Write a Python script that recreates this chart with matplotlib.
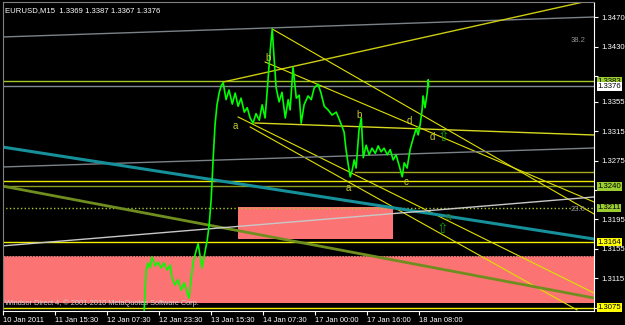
import matplotlib
matplotlib.use("Agg")
import matplotlib.pyplot as plt
from matplotlib.patches import Rectangle

plt.rcParams["font.family"] = ["Liberation Sans", "DejaVu Sans"]

# EURUSD M15 close line: hours since the first tick, price
hours = [43.4, 44.0, 44.6, 45.2, 45.8, 46.8, 47.7, 48.6, 49.5, 50.5, 51.4, 52.0, 52.9, 53.8,
         54.8, 55.7, 56.6, 57.2, 57.8, 58.5, 59.4, 60.0, 60.6, 61.2, 62.2, 62.8, 63.4, 64.0,
         64.6, 65.2, 65.8, 66.5, 67.1, 67.7, 68.6, 69.5, 70.5, 71.4, 72.3, 73.2, 74.2, 75.1,
         76.0, 76.9, 77.8, 78.8, 79.7, 80.6, 81.5, 82.2, 82.8, 83.4, 84.0, 84.9, 85.8, 86.8,
         87.7, 88.3, 89.2, 90.2, 91.1, 91.7, 92.6, 93.8, 94.8, 95.7, 96.9, 97.8, 98.8, 100.0,
         101.2, 102.5, 103.7, 104.9, 105.5, 106.2, 106.8, 107.4, 108.0, 108.6, 109.5, 110.2,
         110.8, 111.7, 112.6, 113.5, 114.5, 115.4, 116.3, 117.2, 118.2, 119.1, 120.0, 120.9,
         121.8, 122.8, 123.4, 124.3, 125.2, 126.2, 127.1, 127.7, 128.3, 128.9, 129.2, 129.8,
         130.5, 130.8, 130.9]
closes = [1.3072, 1.3126, 1.3136, 1.3129, 1.3144, 1.3132, 1.3137, 1.3129, 1.3136, 1.3126,
          1.3133, 1.3115, 1.3106, 1.3113, 1.3099, 1.3109, 1.3096, 1.3088, 1.3113, 1.3137,
          1.3153, 1.3162, 1.3145, 1.3129, 1.3153, 1.3167, 1.3188, 1.3222, 1.3276, 1.3324,
          1.3351, 1.3368, 1.3377, 1.3381, 1.3358, 1.3371, 1.3352, 1.3367, 1.3349, 1.3360,
          1.3341, 1.3347, 1.3333, 1.3326, 1.3339, 1.3330, 1.3351, 1.3333, 1.3385, 1.3426,
          1.3454, 1.3412, 1.3374, 1.3355, 1.3368, 1.3333, 1.3358, 1.3344, 1.3402, 1.3360,
          1.3364, 1.3326, 1.3351, 1.3363, 1.3358, 1.3374, 1.3379, 1.3367, 1.3349, 1.3344,
          1.3337, 1.3341, 1.3328, 1.3314, 1.3290, 1.3269, 1.3253, 1.3262, 1.3276, 1.3265,
          1.3317, 1.3333, 1.3279, 1.3296, 1.3283, 1.3292, 1.3285, 1.3295, 1.3287, 1.3292,
          1.3283, 1.3290, 1.3276, 1.3283, 1.3269, 1.3253, 1.3272, 1.3265, 1.3290, 1.3306,
          1.3319, 1.3310, 1.3324, 1.3344, 1.3363, 1.3347, 1.3368, 1.3385, 1.3376]

x_ticks = [0, 16, 32, 48, 64, 80, 96, 112, 128]
x_labels = ["10 Jan 2011", "11 Jan 15:30", "12 Jan 07:30", "12 Jan 23:30", "13 Jan 15:30",
            "14 Jan 07:30", "17 Jan 00:00", "17 Jan 16:00", "18 Jan 08:00"]
y_ticks = [1.3470, 1.3430, 1.3390, 1.3355, 1.3315, 1.3275, 1.3235, 1.3195, 1.3155, 1.3115, 1.3075]
y_labels = ["1.3470", "1.3430", "", "1.3355", "1.3315", "1.3275", "", "1.3195", "1.3155",
            "1.3115", ""]

# trendlines: (h0, p0, h1, p1, colour, width)
trend_lines = [
    (-0.3, 1.34432, 181.8, 1.34704, "#7a8288", 1.0),
    (67.7, 1.33820, 178.5, 1.34908, "#cccc10", 1.0),
    (82.8, 1.34541, 181.8, 1.32025, "#e0e000", 0.8),
    (80.6, 1.34092, 181.8, 1.32188, "#e0e000", 0.8),
    (72.3, 1.33344, 181.8, 1.30950, "#e0e000", 0.8),
    (76.0, 1.33208, 176.6, 1.30719, "#e0e000", 0.8),
    (77.5, 1.33262, 181.8, 1.33099, "#d8d820", 1.0),
    (-0.3, 1.32664, 181.8, 1.32922, "#7a8288", 1.0),
    (-0.3, 1.32936, 181.8, 1.31684, "#16909a", 2.2),
    (-0.3, 1.32405, 181.8, 1.30882, "#6f8e1f", 2.0),
    (-0.3, 1.31590, 181.8, 1.32256, "#c8c8c8", 1.0),
]
# horizontal levels: (price, start hour, colour, style)
levels = [
    (1.3383, -0.3, "#a0c828", "-"),
    (1.3376, -0.3, "#808890", "-"),
    (1.32596, 108.3, "#a8a820", "-"),
    (1.32473, -0.3, "#e8e800", "-"),
    (1.3240, -0.3, "#8a9a20", "-"),
    (1.3211, -0.3, "#a8c830", ":"),
    (1.3164, -0.3, "#f0f000", "-"),
    (1.3075, -0.3, "#f0f000", "-"),
]
# zones: (h0, h1, p_low, p_high)
zones = [(-0.3, 181.8, 1.30814, 1.31453), (72.3, 119.9, 1.31680, 1.32116)]

wave_labels = [("a", 71.4, 1.33222), ("b", 81.5, 1.34146), ("b", 109.5, 1.33371),
               ("a", 106.2, 1.32378), ("c", 124.0, 1.32460), ("d", 124.9, 1.33290),
               ("d", 132.0, 1.33072)]
arrows = [(135.4, 1.33072), (135.1, 1.31820)]

price_boxes = [("1.3383", 1.3383, "#9acd32"), ("1.3376", 1.3376, "white"),
               ("1.3240", 1.3240, "#9acd32"), ("1.3211", 1.3211, "#9acd32"),
               ("1.3164", 1.3164, "#ffff00"), ("1.3075", 1.3075, "#ffff00")]

fig = plt.figure(figsize=(6.25, 3.25), dpi=100, facecolor="black")
ax = fig.add_axes([2.5 / 625, 14 / 325, 591.5 / 625, 309 / 325], facecolor="black")
ax.set_xlim(-0.2, 181.8)
ax.set_ylim(1.30705, 1.34908)

for h0, h1, lo, hi in zones:
    ax.add_patch(Rectangle((h0, lo), h1 - h0, hi - lo, facecolor="#fb7373",
                           edgecolor="none", zorder=1))
ax.plot([-0.3, 181.8], [1.31453, 1.31453], color="#404040", lw=0.8, ls=":", zorder=1.5)

for price, start, col, ls in levels:
    ax.plot([start, 181.8], [price, price], color=col, lw=1.0, ls=ls, zorder=2)

for h0, p0, h1, p1, col, lw in trend_lines:
    ax.plot([h0, h1], [p0, p1], color=col, lw=lw, zorder=2.2)

ax.plot(hours, closes, color="#00ff00", lw=1.2, zorder=3)

for txt, h, p in wave_labels:
    ax.text(h, p, txt, color="#c8c832", fontsize=7, ha="center", va="center", zorder=4)
ax.text(136.9, 1.31984, "a", color="#2f7a20", fontsize=7, ha="center", va="center", zorder=4)
for h, p in arrows:
    ax.text(h, p, "\u21e7", color="#10a010", fontsize=10, ha="center", va="center", zorder=4,
            family="DejaVu Sans")

ax.text(0.985, 1.3438, "38.2", transform=ax.get_yaxis_transform(), color="#909090",
        fontsize=5.5, ha="right", va="center")
ax.text(0.985, 1.3209, "23.6", transform=ax.get_yaxis_transform(), color="#909090",
        fontsize=5.5, ha="right", va="center")

ax.text(0.005, 0.985, "EURUSD,M15  1.3369 1.3387 1.3367 1.3376", transform=ax.transAxes,
        color="white", fontsize=5.6, ha="left", va="top")
ax.text(0.004, 0.012, "Windsor Direct 4, \u00a9 2001-2010 MetaQuotes Software Corp.",
        transform=ax.transAxes, color="#d0d0d0", fontsize=5.3, ha="left", va="bottom", zorder=4)

ax.yaxis.tick_right()
ax.set_yticks(y_ticks)
ax.set_yticklabels(y_labels)
ax.tick_params(axis="y", colors="white", labelsize=5.6, length=3, pad=2, width=0.8)
ax.set_xticks(x_ticks)
ax.set_xticklabels(x_labels, ha="left")
ax.tick_params(axis="x", colors="white", labelsize=5.4, length=3, pad=1, width=0.8)

for txt, p, col in price_boxes:
    ax.text(1.0055, p, txt, transform=ax.get_yaxis_transform(), color="black", fontsize=5.6,
            ha="left", va="center", zorder=6, clip_on=False,
            bbox=dict(facecolor=col, edgecolor="none", pad=0.5))

ax.spines["left"].set_color("#808080")
ax.spines["top"].set_color("#808080")
ax.spines["bottom"].set_color("white")
ax.spines["right"].set_color("white")

fig.savefig("out.png", dpi=100, facecolor="black")
